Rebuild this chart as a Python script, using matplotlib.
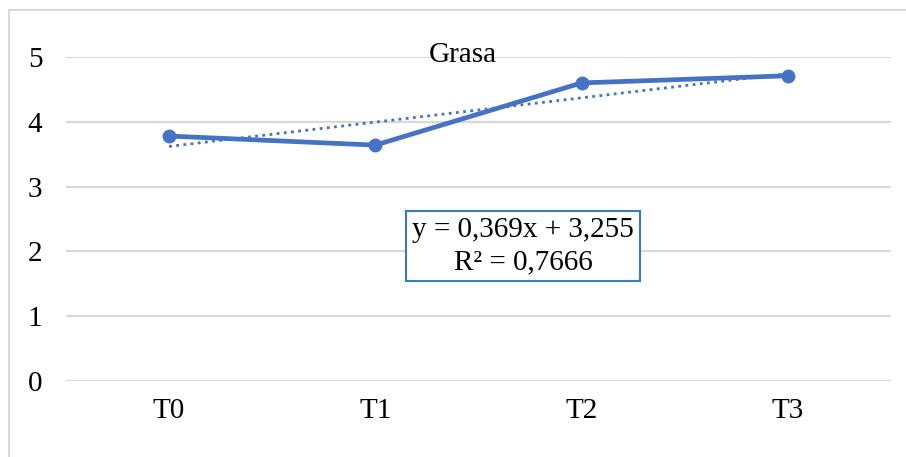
import matplotlib.pyplot as plt
import numpy as np
from matplotlib.patches import Rectangle

categories = ["T0", "T1", "T2", "T3"]
grasa = [3.78, 3.64, 4.60, 4.71]
yticks = [0, 1, 2, 3, 4, 5]
eq_text = "y = 0,369x + 3,255\nR² = 0,7666"

blue = "#4472C4"
plt.rcParams['font.family'] = ['Liberation Serif', 'DejaVu Serif']

fig = plt.figure(figsize=(9.06, 4.57), dpi=100)
ax = fig.add_axes([0.0728, 0.1663, 0.9106, 0.709])

# chart border
fig.patches.append(Rectangle((9 / 906, -0.05), 1.1, 1 - 10 / 457 + 0.05,
                             transform=fig.transFigure, fill=False,
                             edgecolor="#D9D9D9", linewidth=1.5))

x = np.arange(len(categories))
ax.plot(x, grasa, color=blue, linewidth=3.4, marker="o", markersize=9,
        solid_capstyle="round", zorder=3)

# linear trend (Excel x = 1..n)
xs = x + 1
slope, intercept = np.polyfit(xs, grasa, 1)
ax.plot(x, slope * xs + intercept, color=blue, linewidth=2,
        linestyle=(0, (1, 1.6)), zorder=2)

ax.set_xlim(-0.5, len(categories) - 0.5)
ax.set_ylim(0, 5)
ax.set_xticks(x)
ax.set_xticklabels(categories)
ax.set_yticks(yticks)
ax.tick_params(length=0, labelsize=21, colors="black")
ax.tick_params(axis="x", pad=12)
ax.tick_params(axis="y", pad=17)
ax.grid(axis="y", color="#D9D9D9", linewidth=1.6)
ax.set_axisbelow(True)
for s in ax.spines.values():
    s.set_visible(False)
for ln in ax.lines:
    ln.set_clip_on(False)

fig.text(463 / 906, 1 - 55 / 457, "Grasa", ha="center", va="center", fontsize=21)
fig.text(523 / 906, 1 - 246 / 457, eq_text, ha="center", va="center",
         fontsize=21, linespacing=1.3,
         bbox=dict(boxstyle="square,pad=0.22", facecolor="white",
                   edgecolor="#3A7AC0", linewidth=1.5))

fig.savefig("out.png", dpi=100)
